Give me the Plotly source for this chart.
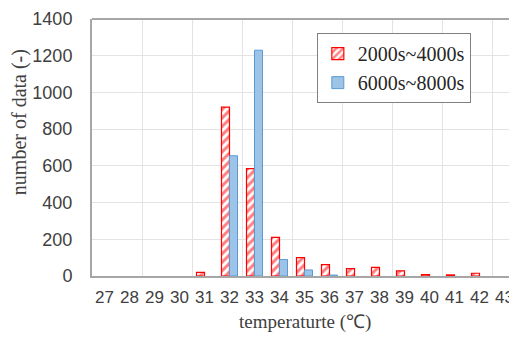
import plotly.graph_objects as go

temps = list(range(27, 44))
tick_labels = [str(t) for t in temps]
series1_name = "2000s~4000s"
series2_name = "6000s~8000s"
series1 = [0, 0, 0, 0, 20, 920, 585, 210, 100, 62, 40, 47, 28, 8, 6, 15, 0]
series2 = [0, 0, 0, 0, 0, 655, 1230, 90, 33, 5, 0, 0, 0, 0, 0, 0, 0]
y_ticks = [0, 200, 400, 600, 800, 1000, 1200, 1400]
grid_x = [26.5, 28.5, 30.5, 32.5, 34.5, 36.5, 38.5, 40.5, 42.5]


def nz(vals):
    # empty bins are drawn as no bar at all
    return [v if v else None for v in vals]


fig = go.Figure()
fig.add_trace(go.Bar(
    x=temps, y=nz(series1), name=series1_name,
    marker=dict(color="white", line=dict(color="#ff0000", width=1.2),
                pattern=dict(shape="/", fgcolor="#ff0000", bgcolor="white",
                             size=6, solidity=0.5)),
))
fig.add_trace(go.Bar(
    x=temps, y=nz(series2), name=series2_name,
    marker=dict(color="#9dc3e6", line=dict(color="#5b9bd5", width=1)),
))
# invisible trace on secondary x axis to draw the vertical grid
fig.add_trace(go.Scatter(x=[26.5, 43.5], y=[0, 0], xaxis="x2", mode="none",
                         showlegend=False, hoverinfo="skip"))

# the page body adds an 8px offset, so the figure is 8px smaller than the window
fig.update_layout(
    width=509, height=329,
    margin=dict(l=84, r=0, t=11, b=61, autoexpand=False),
    paper_bgcolor="white", plot_bgcolor="white",
    barmode="group", bargap=0.36, bargroupgap=0,
    showlegend=True,
    legend=dict(x=0.529, y=0.945, xanchor="left", yanchor="top",
                bordercolor="#808080", borderwidth=1, bgcolor="white",
                font=dict(family="Liberation Serif", size=20, color="#262626"),
                itemwidth=30, tracegroupgap=0),
    xaxis=dict(range=[26.5, 43.5], tickvals=temps, ticktext=tick_labels,
               showgrid=False, zeroline=False, showline=True, automargin=False,
               linecolor="#a6a6a6", linewidth=2, ticks="",
               tickfont=dict(family="Liberation Sans", size=17, color="#404040"),
               ticklabelstandoff=5),
    xaxis2=dict(range=[26.5, 43.5], overlaying="x", tickvals=grid_x,
                showticklabels=False, showgrid=True, gridcolor="#e3e3e3",
                gridwidth=1, zeroline=False, showline=False, automargin=False,
                layer="below traces"),
    yaxis=dict(range=[0, 1400], tickvals=y_ticks, showgrid=True, automargin=False,
               gridcolor="#e3e3e3", gridwidth=1, zeroline=False,
               showline=True, linecolor="#a6a6a6", linewidth=2, mirror=False,
               tickfont=dict(family="Liberation Sans", size=18, color="#404040"),
               ticks="", ticklabelstandoff=14),
    annotations=[
        dict(text="number of data (-)", textangle=-90, xref="paper", yref="paper",
             x=-0.171, y=0.60, xanchor="center", yanchor="middle", showarrow=False,
             font=dict(family="Liberation Serif", size=20, color="#404040")),
        dict(text="temperaturte (℃)", xref="paper", yref="paper",
             x=0.5, y=-0.178, xanchor="center", yanchor="middle", showarrow=False,
             font=dict(family="Liberation Serif", size=19, color="#404040")),
    ],
    shapes=[dict(type="line", xref="paper", yref="paper", x0=0, x1=1, y0=1, y1=1,
                 line=dict(color="#a6a6a6", width=2))],
)
fig.write_html("out.html")
